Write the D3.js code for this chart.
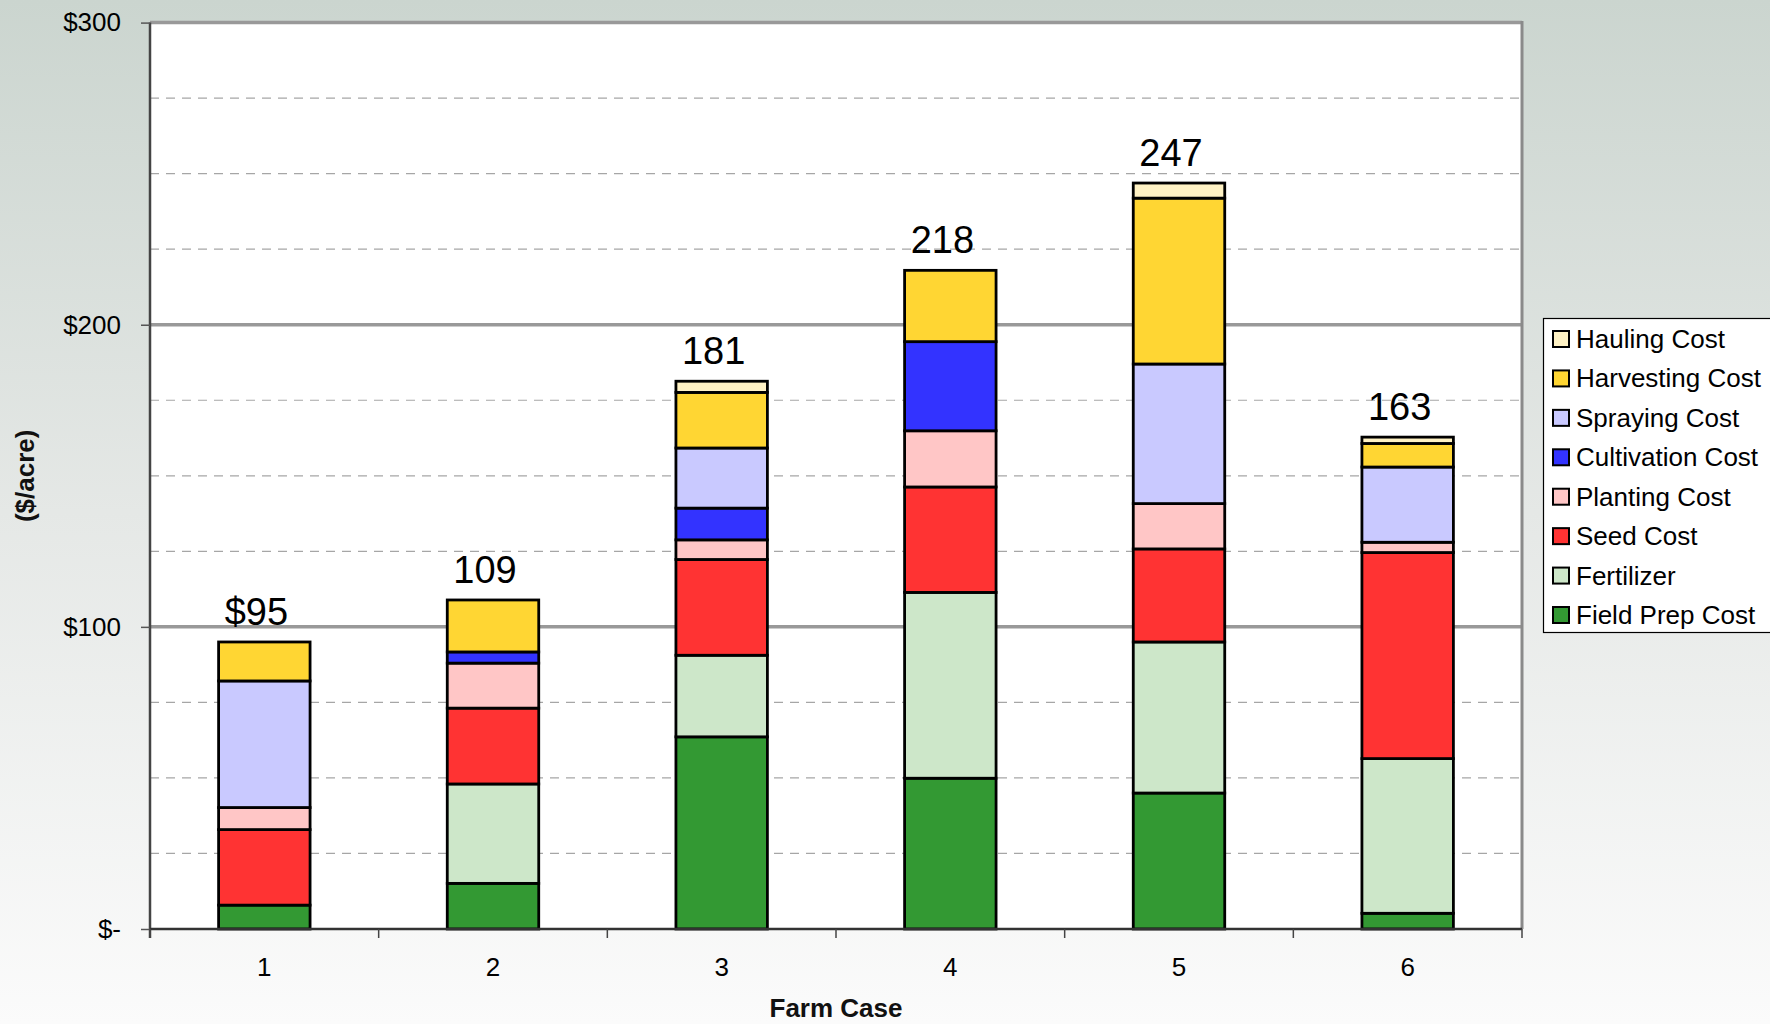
<!DOCTYPE html>
<html><head><meta charset="utf-8">
<script src="https://cdn.jsdelivr.net/npm/d3@7"></script>
<style>
html,body{margin:0;padding:0;overflow:hidden;}
svg{display:block;font-family:"Liberation Sans",Arial,sans-serif;}
</style></head>
<body>
<svg id="chart" width="1770" height="1024"></svg>
<script>
// ---- data ----
const categories = ["1","2","3","4","5","6"];
const seriesNames = ["Field Prep Cost","Fertilizer","Seed Cost","Planting Cost","Cultivation Cost","Spraying Cost","Harvesting Cost","Hauling Cost"];
const fieldPrep   = [7.9, 15.1, 63.6, 49.9, 45.0, 5.2];
const fertilizer  = [0,   32.9, 27.0, 61.5, 50.0, 51.2];
const seedCost    = [25.0,25.1, 31.7, 34.9, 30.8, 68.2];
const planting    = [7.3, 14.9, 6.5,  18.6, 15.0, 3.4];
const cultivation = [0,   3.7,  10.5, 29.5, 0,    0];
const spraying    = [41.9,0,    19.9, 0,    46.2, 24.9];
const harvesting  = [12.9,17.2, 18.4, 23.6, 54.9, 7.8];
const hauling     = [0,   0,    3.7,  0,    5.0,  2.1];
const totalLabels = ["$95","109","181","218","247","163"];
const yTickValues = [0,100,200,300];
const yTickLabels = ["$-","$100","$200","$300"];
const minorTicks  = [25,50,75,125,150,175,225,250,275];
const seriesColors = ["#339933","#cde7c9","#ff3333","#ffc6c6","#3333ff","#c9c9ff","#ffd633","#fff2c4"];

const seriesValues = [fieldPrep,fertilizer,seedCost,planting,cultivation,spraying,harvesting,hauling];

// ---- layout ----
const svg = d3.select("#chart");
const W = 1770, H = 1024;
const L = 150, R = 1522, T = 22.6, B = 929;

const defs = svg.append("defs");
const grad = defs.append("linearGradient").attr("id","bg").attr("x1",0).attr("y1",0).attr("x2",0).attr("y2",1);
grad.append("stop").attr("offset","0%").attr("stop-color","#cbd5cf");
grad.append("stop").attr("offset","50%").attr("stop-color","#e5e8e6");
grad.append("stop").attr("offset","100%").attr("stop-color","#fbfbfb");
svg.append("rect").attr("width",W).attr("height",H).attr("fill","url(#bg)");

const x = d3.scaleBand().domain(categories).range([L,R]).paddingInner(0.6).paddingOuter(0.3);
const y = d3.scaleLinear().domain([0,300]).range([B,T]);

// plot area
svg.append("rect").attr("x",L).attr("y",T).attr("width",R-L).attr("height",B-T).attr("fill","#ffffff");

// minor dashed gridlines
svg.append("g").selectAll("line").data(minorTicks).join("line")
  .attr("x1",L).attr("x2",R).attr("y1",d=>y(d)).attr("y2",d=>y(d))
  .attr("stroke","#a6a6a6").attr("stroke-width",1.2).attr("stroke-dasharray","9,7");

// major gridlines
svg.append("g").selectAll("line").data(yTickValues.filter(v=>v>0)).join("line")
  .attr("x1",L).attr("x2",R).attr("y1",d=>y(d)).attr("y2",d=>y(d))
  .attr("stroke","#999999").attr("stroke-width",3.5);

// right border
svg.append("line").attr("x1",R).attr("x2",R).attr("y1",T-1.5).attr("y2",B)
  .attr("stroke","#8a8a8a").attr("stroke-width",3);

// stacked bars
const table = categories.map((c,i)=>{
  const o = {cat:c};
  seriesNames.forEach((s,j)=>o[s]=seriesValues[j][i]);
  return o;
});
const stacked = d3.stack().keys(seriesNames)(table);
const gBars = svg.append("g");
stacked.forEach((layer,j)=>{
  gBars.append("g").selectAll("rect")
    .data(layer.filter(d=>d[1]-d[0]>0))
    .join("rect")
    .attr("x",d=>x(d.data.cat))
    .attr("width",x.bandwidth())
    .attr("y",d=>y(d[1]))
    .attr("height",d=>y(d[0])-y(d[1]))
    .attr("fill",seriesColors[j])
    .attr("stroke","#000").attr("stroke-width",2.8);
});

// total labels
const totals = categories.map((c,i)=>d3.sum(seriesValues,s=>s[i]));
svg.append("g").selectAll("text").data(categories).join("text")
  .attr("x",(c)=>x(c)+x.bandwidth()/2-8)
  .attr("y",(c,i)=>y(totals[i])-17)
  .attr("text-anchor","middle")
  .attr("font-size",38).attr("fill","#000")
  .text((c,i)=>totalLabels[i]);

// y axis
const yAxis = d3.axisLeft(y).tickValues(yTickValues).tickFormat((d,i)=>yTickLabels[i]).tickSize(9).tickPadding(20);
const gy = svg.append("g").attr("transform",`translate(${L},0)`).call(yAxis);
gy.select(".domain").attr("stroke","#444").attr("stroke-width",2.5).attr("d",`M-0,${T}V${B+9}`);
gy.selectAll(".tick line").attr("stroke","#555").attr("stroke-width",1.5);
gy.selectAll(".tick text").attr("font-size",26).attr("fill","#000").attr("font-family","Liberation Sans, Arial, sans-serif");

// x axis
const xAxis = d3.axisBottom(x).tickSize(0).tickPadding(29);
const gx = svg.append("g").attr("transform",`translate(0,${B})`).call(xAxis);
gx.select(".domain").attr("stroke","#333").attr("stroke-width",2.5).attr("d",`M${L},0H${R}`);
gx.selectAll(".tick text").attr("font-size",26).attr("fill","#000").attr("font-family","Liberation Sans, Arial, sans-serif");
// boundary ticks
const step = x.step();
const boundaries = categories.map(c=>x(c)+x.bandwidth()/2-step/2).concat([x(categories[categories.length-1])+x.bandwidth()/2+step/2]);
svg.append("g").selectAll("line").data(boundaries).join("line")
  .attr("x1",d=>d).attr("x2",d=>d).attr("y1",B).attr("y2",B+9)
  .attr("stroke","#444").attr("stroke-width",1.5);

// axis titles
svg.append("text").attr("x",(L+R)/2).attr("y",1017).attr("text-anchor","middle")
  .attr("font-size",26).attr("font-weight","bold").attr("fill","#111").text("Farm Case");
svg.append("text").attr("transform",`translate(34,${(T+B)/2}) rotate(-90)`).attr("text-anchor","middle")
  .attr("font-size",26).attr("font-weight","bold").attr("fill","#111").text("($/acre)");

// legend
const lg = svg.append("g");
lg.append("rect").attr("x",1543.5).attr("y",318.5).attr("width",240).attr("height",314)
  .attr("fill","#ffffff").attr("stroke","#000").attr("stroke-width",1.2);
const legendOrder = seriesNames.map((s,j)=>j).reverse();
const rowY = d3.scaleLinear().domain([0,7]).range([339,615]);
legendOrder.forEach((j,k)=>{
  const cy = rowY(k);
  lg.append("rect").attr("x",1553).attr("y",cy-8).attr("width",16).attr("height",16)
    .attr("fill",seriesColors[j]).attr("stroke","#000").attr("stroke-width",2);
  lg.append("text").attr("x",1576).attr("y",cy+9).attr("font-size",26).attr("fill","#000").text(seriesNames[j]);
});
</script>
</body></html>
